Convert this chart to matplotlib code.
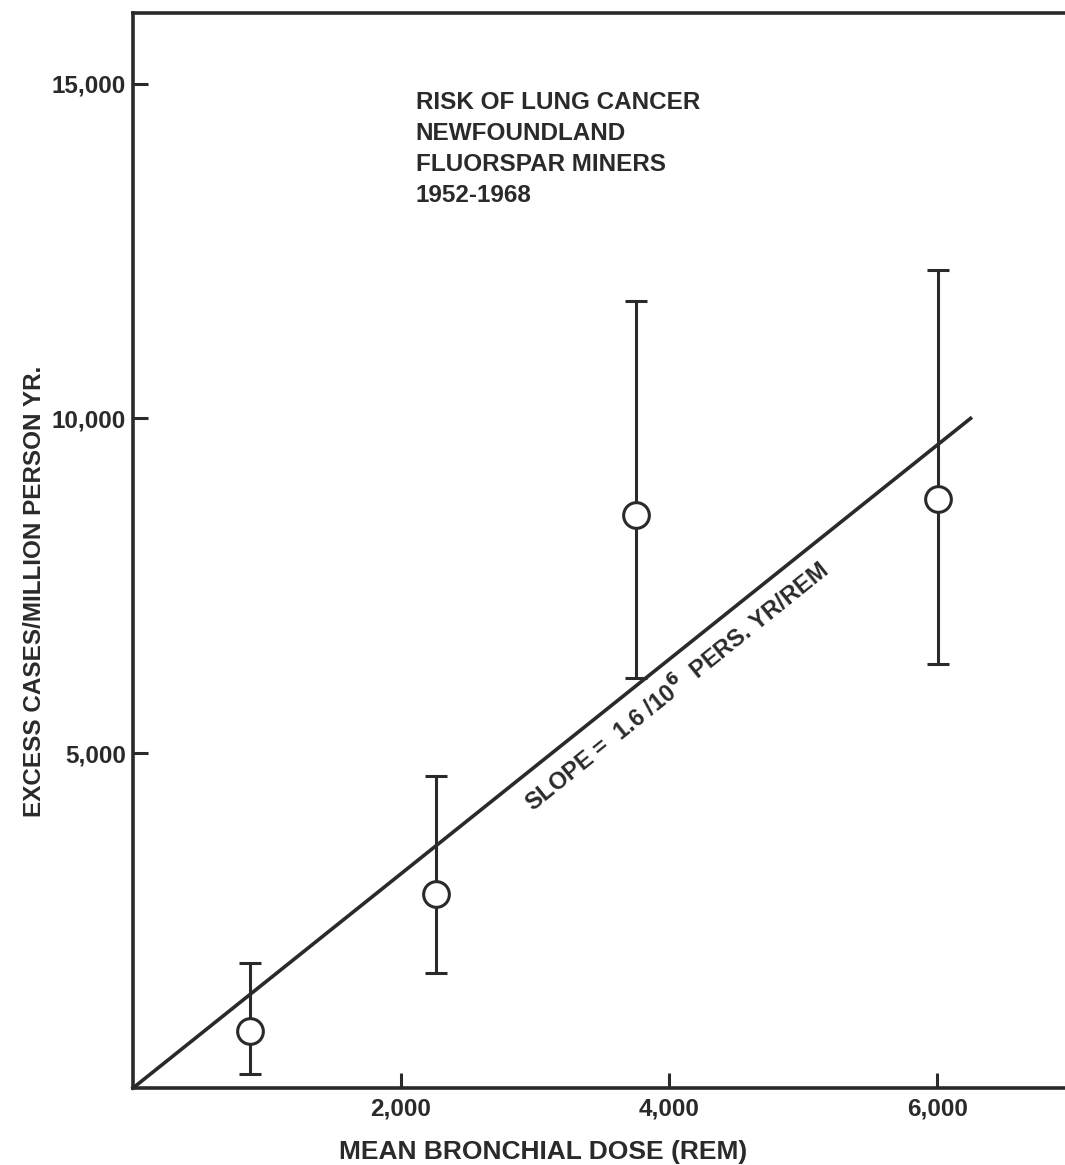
import numpy as np
import matplotlib.pyplot as plt

plt.rcParams['font.family'] = ['Liberation Sans', 'DejaVu Sans']
plt.rcParams['font.weight'] = 'bold'
plt.rcParams['mathtext.default'] = 'bf'

# data
dose = [870, 2260, 3750, 6010]            # mean bronchial dose (rem)
cases = [850, 2900, 8550, 8800]           # excess cases / million person yr
err_hi = [1870, 4660, 11760, 12210]
err_lo = [210, 1720, 6130, 6330]
slope = 1.6                               # cases per 10^6 pers. yr per rem
fit_x = [0, 6250]
xticks = [2000, 4000, 6000]
yticks = [5000, 10000, 15000]

ink = '#2a2a2a'


def create_plot():
    fig = plt.figure(figsize=(10.65, 11.65), dpi=100)
    ax = fig.add_axes([0.1249, 0.0661, 0.8808, 0.9225])

    yerr = [np.array(cases) - np.array(err_lo), np.array(err_hi) - np.array(cases)]
    ax.errorbar(dose, cases, yerr=yerr, fmt='none', ecolor=ink, elinewidth=2.2,
                capsize=8, capthick=2.2, zorder=2)
    ax.plot(dose, cases, 'o', ms=18.5, mfc='white', mec=ink, mew=2.2, zorder=3)

    fx = np.array(fit_x)
    ax.plot(fx, slope * fx, color=ink, lw=2.6, zorder=1, clip_on=False)

    ax.text(4060, 5990, r'SLOPE =  1.6 /10$^{6}$  PERS. YR/REM', rotation=38.8,
            ha='center', va='center', fontsize=17, color=ink, fontweight='bold')

    ax.text(2110, 14890, 'RISK OF LUNG CANCER\nNEWFOUNDLAND\nFLUORSPAR MINERS\n1952-1968',
            ha='left', va='top', fontsize=17.5, color=ink, fontweight='bold',
            linespacing=1.45)

    ax.set_xlim(0, 7000)
    ax.set_ylim(0, 16050)
    ax.set_xticks(xticks)
    ax.set_xticklabels([f'{v:,}' for v in xticks])
    ax.set_yticks(yticks)
    ax.set_yticklabels([f'{v:,}' for v in yticks])
    ax.tick_params(direction='in', length=11, width=2.2, color=ink,
                   labelsize=17.5, labelcolor=ink)
    ax.tick_params(axis='x', pad=7)
    ax.tick_params(axis='y', pad=5)

    ax.spines['right'].set_visible(False)
    for s in ['left', 'bottom', 'top']:
        ax.spines[s].set_linewidth(2.6)
        ax.spines[s].set_color(ink)

    ax.set_xlabel('MEAN BRONCHIAL DOSE (REM)', fontsize=19, color=ink,
                  fontweight='bold')
    ax.set_ylabel('EXCESS CASES/MILLION PERSON YR.', fontsize=17.5, color=ink,
                  fontweight='bold')
    ax.xaxis.set_label_coords(0.437, -0.048)
    ax.yaxis.set_label_coords(-0.093, 0.462)

    fig.savefig('out.png', dpi=100)


if __name__ == '__main__':
    create_plot()
